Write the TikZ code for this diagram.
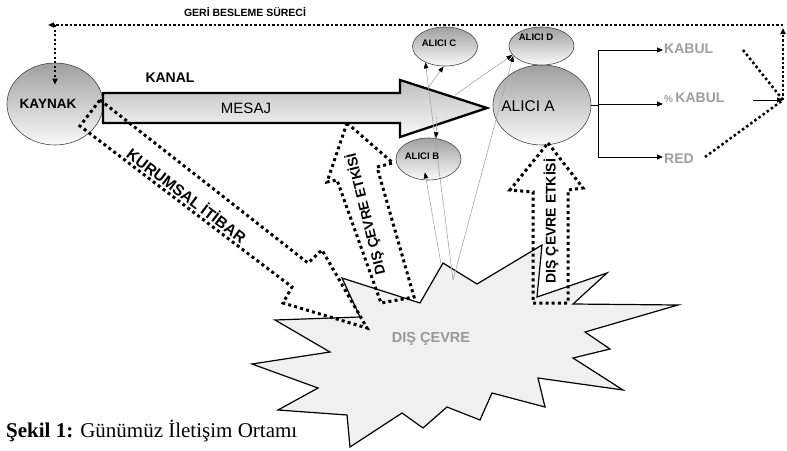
\documentclass[tikz,border=0pt]{standalone}
\usepackage{fontspec}
\setmainfont{Liberation Serif}
\newfontfamily\arial{Liberation Sans}
\usetikzlibrary{arrows.meta,shapes.geometric}
\begin{document}
\begin{tikzpicture}[x=1pt,y=-1pt,
  blob/.style={ellipse, draw=gray!55!black, line width=0.6pt, top color=gray!75, bottom color=gray!4, inner sep=0pt},
  sans/.style={font=\arial\fontsize{#1}{#1}\selectfont, inner sep=1pt},
  sansb/.style={font=\arial\bfseries\fontsize{#1}{#1}\selectfont, inner sep=1pt},
  fatdot/.style={line width=3pt, dash pattern=on 3pt off 3.2pt},
  fbdot/.style={line width=2.2pt, dash pattern=on 2.2pt off 2.3pt},
  tipA/.style={-{Triangle[length=6pt,width=5pt]}},
  thinarr/.style={draw=gray!70, line width=0.6pt, -{Triangle[length=6pt,width=4.5pt,color=black]}},
  outtxt/.style={sansb=14, text=gray!75, anchor=west}
]
\fill[white] (0,0) rectangle (787,450);
\useasboundingbox (0,0) rectangle (787,450);

% starburst
\draw[line width=1.2pt, fill=gray!12, line join=miter]
  (342,278) -- (420,303) -- (443,263) -- (477,284) -- (542,245) -- (537,297)
  -- (607,273) -- (573,304) -- (678,305) -- (585,332) -- (610,349) -- (573,358)
  -- (623,390) -- (538,378) -- (545,407) -- (492,393) -- (480,420) -- (447,407)
  -- (423,428) -- (402,413) -- (350,447) -- (347,415) -- (278,410) -- (318,388)
  -- (252,364) -- (330,352) -- (275,320) -- (360,317) -- cycle;
\node[sansb=14.5, text=gray!80] (dis) at (431,339) {DIŞ ÇEVRE};

% ellipses
\node[blob, minimum width=96pt, minimum height=82pt] (kaynak) at (55,104) {};
\node[blob, minimum width=98pt, minimum height=80pt] (alicia) at (542,105) {};
\node[blob, minimum width=65pt, minimum height=38pt] (alicid) at (541.5,46) {};
\node[blob, minimum width=65pt, minimum height=39pt] (alicic) at (445,46.5) {};
\node[blob, minimum width=65pt, minimum height=42pt] (alicib) at (428.5,159) {};

% big arrow
\draw[line width=2.3pt, top color=gray!50, bottom color=gray!5, line join=miter]
  (103,93) -- (400,93) -- (400,80) -- (487,108) -- (400,137) -- (400,123) -- (103,123) -- cycle;

% dotted fat arrows
\draw[fatdot] (100,100) -- (308,263) -- (322,250) -- (367,328) -- (283,303) -- (292,287) -- (80,126) -- cycle;
\draw[fatdot] (347,123) -- (393,163) -- (377,167) -- (414,297) -- (381,303) -- (337,180) -- (327,182) -- cycle;
\draw[fatdot] (548,143) -- (583,188) -- (568,190) -- (568,303) -- (533,303) -- (533,192) -- (510,190) -- cycle;

% thin arrows
\coordinate (ap) at (453,280);
\coordinate (bp) at (441,264);
\coordinate (dp) at (437,117);
\coordinate (ep) at (428,88);
\coordinate (fp) at (455,95);
\draw[thinarr] (ap) -- (alicic.219);
\draw[thinarr] (ap) -- (alicid.199);
\draw[thinarr, shorten >=-8pt] (bp) -- (alicib.264);
\draw[thinarr] (dp) -- (alicib.70);
\draw[thinarr] (ep) -- (alicic.266);
\draw[thinarr] (fp) -- (alicid.197);

% texts
\node[sansb=13.5] (kaynakt) at (48,104) {KAYNAK};
\node[sans=15.5] (aliciat) at (528,106) {ALICI A};
\node[sansb=9.5] (alicidt) at (536,37) {ALICI D};
\node[sansb=9.5] (alicict) at (439,43) {ALICI C};
\node[sansb=9.5] (alicibt) at (422,156) {ALICI B};
\node[sansb=14] (kanal) at (170,78) {KANAL};
\node[sans=15] (mesaj) at (246,108) {MESAJ};
\node[sansb=10.5] (geri) at (245,12) {GERİ BESLEME SÜRECİ};
\node[sansb=15.5, rotate=-37] (kurum) at (187,195) {KURUMSAL İTİBAR};
\node[sansb=14, rotate=104] (etki1) at (366,214) {DIŞ ÇEVRE ETKİSİ};
\node[sansb=14, rotate=90] (etki2) at (551,221) {DIŞ ÇEVRE ETKİSİ};

% outcomes
\node[outtxt] (kabul) at (663,49) {KABUL};
\node[outtxt] (pkabul) at (663,97.5) {{\fontsize{10}{10}\selectfont\%}\,KABUL};
\node[outtxt] (red) at (663,159) {RED};
\coordinate (b0) at (598,105);
\coordinate (b1) at (598,50);
\coordinate (b2) at (598,104);
\coordinate (b3) at (598,157);
\draw[line width=0.8pt] (alicia.east) -- (b0);
\draw[line width=0.8pt] (b1) -- (b3);
\draw[line width=0.8pt, tipA] (b1) -- (b1 -| kabul.west);
\draw[line width=0.8pt, tipA] (b2) -- (b2 -| pkabul.west);
\draw[line width=0.8pt, tipA] (b3) -- (b3 -| red.west);

% feedback
\coordinate (J) at (783,100);
\coordinate (fbR) at (783,25);
\coordinate (fbL) at (48,25);
\coordinate (fbK) at (55,25);
\coordinate (k1) at (743,50);
\coordinate (r1) at (705,157);
\coordinate (p1) at (753,100);
\draw[fatdot, line width=2.5pt, dash pattern=on 2.5pt off 2.6pt] (k1) -- (J);
\draw[fatdot, line width=2.5pt, dash pattern=on 2.5pt off 2.6pt] (r1) -- (J);
\draw[line width=0.8pt, tipA] (p1) -- (J);
\draw[fbdot, tipA] (J) -- ([yshift=-3pt]fbR);
\draw[fbdot, tipA] (fbR) -- (fbL);
\draw[fbdot, tipA, shorten >=-22pt] (fbK) -- (kaynak.north);

% caption
\node[anchor=base west, inner sep=0pt, font=\fontsize{21}{24}\selectfont] (cap) at (6,437) {\textbf{Şekil 1:} Günümüz İletişim Ortamı};
\end{tikzpicture}
\end{document}
